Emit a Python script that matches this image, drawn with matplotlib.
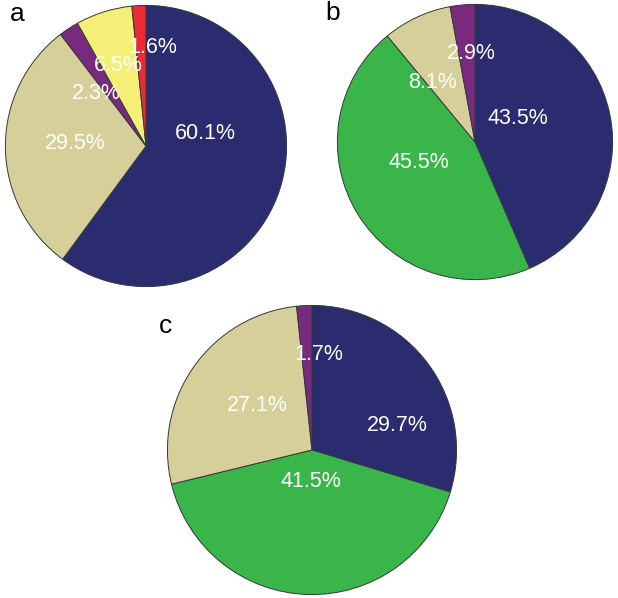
import matplotlib
matplotlib.use("Agg")
import matplotlib.pyplot as plt

plt.rcParams["font.family"] = ["Liberation Sans", "DejaVu Sans"]

# colours per category
NAVY = "#2B2C70"
TAN = "#D6CF99"
PURPLE = "#7A2A7E"
YELLOW = "#F5EF78"
RED = "#EC2A36"
GREEN = "#3AB54A"

# panel a
a_values = [60.1, 29.5, 2.3, 6.5, 1.6]
a_colors = [NAVY, TAN, PURPLE, YELLOW, RED]
# panel b
b_values = [43.5, 45.5, 8.1, 2.9]
b_colors = [NAVY, GREEN, TAN, PURPLE]
# panel c
c_values = [29.7, 41.5, 27.1, 1.7]
c_colors = [NAVY, GREEN, TAN, PURPLE]

# label positions relative to pie centre (in radius units)
a_labelpos = [(0.42, 0.09), (-0.50, 0.02), (-0.35, 0.37), (-0.20, 0.57), (0.05, 0.70)]
b_labelpos = [(0.31, 0.17), (-0.41, -0.15), (-0.31, 0.43), (-0.03, 0.64)]
c_labelpos = [(0.59, 0.17), (-0.01, -0.22), (-0.38, 0.31), (0.05, 0.66)]

W, H = 618, 598
fig = plt.figure(figsize=(W / 100, H / 100), dpi=100)


def draw_pie(cx, cy, r, values, colors, labelpos, letter, lx, ly):
    ax = fig.add_axes([(cx - r) / W, (H - cy - r) / H, 2 * r / W, 2 * r / H])
    wedges, texts, autotexts = ax.pie(
        values, colors=colors, startangle=90, counterclock=False,
        autopct="%.1f%%", radius=1.0,
        wedgeprops=dict(edgecolor="#2f3a3a", linewidth=0.7),
        textprops=dict(color="white", fontsize=15.5),
    )
    for t, (x, y) in zip(autotexts, labelpos):
        t.set_position((x, y))
        t.set_ha("center")
        t.set_va("center")
    ax.set_xlim(-1.01, 1.01)
    ax.set_ylim(-1.01, 1.01)
    ax.axis("off")
    fig.text(lx / W, 1 - ly / H, letter, fontsize=19, ha="center", va="center")


draw_pie(146, 146, 142, a_values, a_colors, a_labelpos, "a", 17, 14)
draw_pie(475, 142, 139, b_values, b_colors, b_labelpos, "b", 333, 13)
draw_pie(312, 450, 146, c_values, c_colors, c_labelpos, "c", 166, 326)

fig.savefig("out.png", dpi=100)
